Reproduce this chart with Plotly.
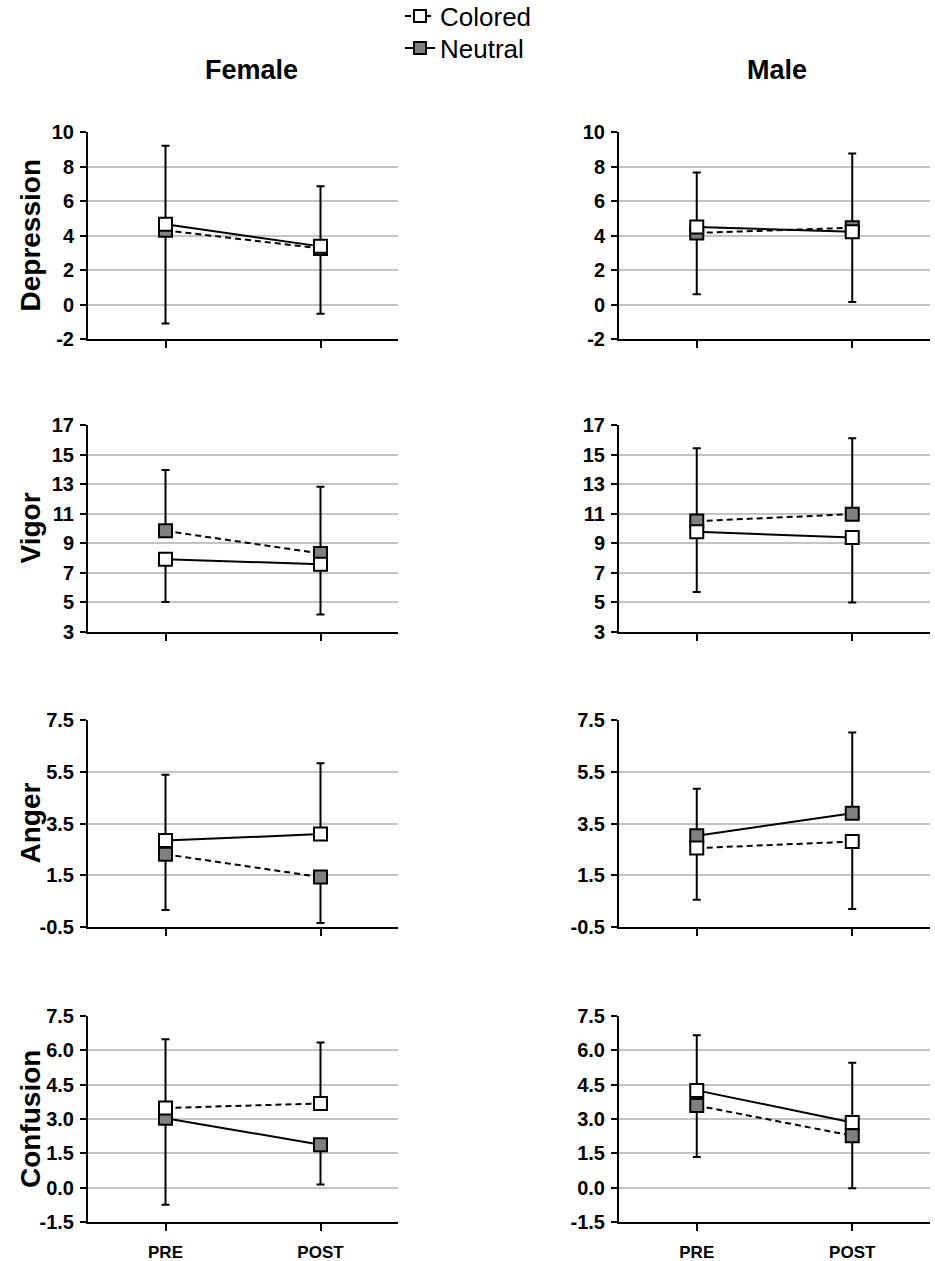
import plotly.graph_objects as go
from plotly.subplots import make_subplots

# ---------------- data ----------------
times = ["PRE", "POST"]
columns = ["Female", "Male"]
measures = ["Depression", "Vigor", "Anger", "Confusion"]

# means  (Colored = open square, Neutral = grey square)
female_colored = {"Depression": [4.65, 3.37], "Vigor": [7.92, 7.58], "Anger": [2.84, 3.09], "Confusion": [3.48, 3.68]}
female_neutral = {"Depression": [4.30, 3.25], "Vigor": [9.84, 8.31], "Anger": [2.31, 1.43], "Confusion": [3.03, 1.88]}
male_colored = {"Depression": [4.49, 4.22], "Vigor": [9.78, 9.39], "Anger": [2.55, 2.80], "Confusion": [4.25, 2.85]}
male_neutral = {"Depression": [4.15, 4.45], "Vigor": [10.50, 10.97], "Anger": [3.03, 3.90], "Confusion": [3.59, 2.27]}

# error bars (upper / lower length), 0 where not drawn
female_colored_up = {"Depression": [4.56, 3.48], "Vigor": [0, 0], "Anger": [2.54, 2.74], "Confusion": [3.00, 2.66]}
female_colored_dn = {"Depression": [0, 0], "Vigor": [2.89, 3.40], "Anger": [0, 0], "Confusion": [0, 0]}
female_neutral_up = {"Depression": [0, 0], "Vigor": [4.11, 4.51], "Anger": [0, 0], "Confusion": [0, 0]}
female_neutral_dn = {"Depression": [5.40, 3.78], "Vigor": [0, 0], "Anger": [2.15, 1.78], "Confusion": [3.78, 1.74]}
male_colored_up = {"Depression": [3.16, 0], "Vigor": [0, 0], "Anger": [0, 0], "Confusion": [2.41, 2.61]}
male_colored_dn = {"Depression": [0, 4.07], "Vigor": [4.07, 4.40], "Anger": [2.00, 2.60], "Confusion": [0, 0]}
male_neutral_up = {"Depression": [0, 4.30], "Vigor": [4.92, 5.13], "Anger": [1.81, 3.12], "Confusion": [0, 0]}
male_neutral_dn = {"Depression": [3.56, 0], "Vigor": [0, 0], "Anger": [0, 0], "Confusion": [2.25, 2.30]}

# y-axis tick values and labels
y_tickvals = {
    "Depression": [-2, 0, 2, 4, 6, 8, 10],
    "Vigor": [3, 5, 7, 9, 11, 13, 15, 17],
    "Anger": [-0.5, 1.5, 3.5, 5.5, 7.5],
    "Confusion": [-1.5, 0.0, 1.5, 3.0, 4.5, 6.0, 7.5],
}
y_ticktext = {
    "Depression": ["-2", "0", "2", "4", "6", "8", "10"],
    "Vigor": ["3", "5", "7", "9", "11", "13", "15", "17"],
    "Anger": ["-0.5", "1.5", "3.5", "5.5", "7.5"],
    "Confusion": ["-1.5", "0.0", "1.5", "3.0", "4.5", "6.0", "7.5"],
}

# ---------------- styles ----------------
# line dash of (Colored, Neutral) for each panel as drawn in the original
DASH = "6px,4px"
dash_style = {
    ("Female", "Depression"): ("solid", DASH),
    ("Male", "Depression"): ("solid", DASH),
    ("Female", "Vigor"): ("solid", DASH),
    ("Male", "Vigor"): ("solid", DASH),
    ("Female", "Anger"): ("solid", DASH),
    ("Male", "Anger"): (DASH, "solid"),
    ("Female", "Confusion"): (DASH, "solid"),
    ("Male", "Confusion"): ("solid", DASH),
}

W, H = 935, 1261
FONT = "Liberation Sans, Arial, sans-serif"
GREY = "#808080"

col_px = {"Female": (88, 398), "Male": (619, 930)}
row_px = {"Depression": (132, 339), "Vigor": (425, 632), "Anger": (720, 927), "Confusion": (1016, 1222)}

data = {
    "Female": (female_colored, female_neutral, female_colored_up, female_colored_dn, female_neutral_up, female_neutral_dn),
    "Male": (male_colored, male_neutral, male_colored_up, male_colored_dn, male_neutral_up, male_neutral_dn),
}

fig = make_subplots(rows=4, cols=2)

for r, m in enumerate(measures, start=1):
    for c, g in enumerate(columns, start=1):
        col_m, neu_m, cu, cd, nu, nd = data[g]
        dash_c, dash_n = dash_style[(g, m)]
        # Neutral (grey) first, Colored on top
        fig.add_trace(go.Scatter(
            x=times, y=neu_m[m], mode="lines+markers", showlegend=False,
            line=dict(color="black", width=2, dash=dash_n),
            marker=dict(symbol="square", size=13, color=GREY, line=dict(color="black", width=2)),
            error_y=dict(type="data", symmetric=False, array=nu[m], arrayminus=nd[m],
                         color="black", thickness=2, width=4),
        ), row=r, col=c)
        fig.add_trace(go.Scatter(
            x=times, y=col_m[m], mode="lines+markers", showlegend=False,
            line=dict(color="black", width=2, dash=dash_c),
            marker=dict(symbol="square", size=13, color="white", line=dict(color="black", width=2)),
            error_y=dict(type="data", symmetric=False, array=cu[m], arrayminus=cd[m],
                         color="black", thickness=2, width=4),
        ), row=r, col=c)

        x0, x1 = col_px[g]
        y0, y1 = row_px[m]
        fig.update_xaxes(
            domain=[x0 / W, x1 / W], type="category", range=[-0.5, 1.5],
            showline=True, linecolor="black", linewidth=2,
            ticks="outside", ticklen=7, tickwidth=2, tickcolor="black",
            showgrid=False, zeroline=False, automargin=False,
            showticklabels=(m == "Confusion"), ticklabelstandoff=7,
            tickfont=dict(family=FONT, size=17, color="black", weight="bold"),
            row=r, col=c,
        )
        tv = y_tickvals[m]
        fig.update_yaxes(
            domain=[1 - y1 / H, 1 - y0 / H], range=[tv[0], tv[-1]],
            tickmode="array", tickvals=tv, ticktext=y_ticktext[m],
            showline=True, linecolor="black", linewidth=2,
            ticks="outside", ticklen=6, tickwidth=2, tickcolor="black",
            showgrid=True, gridcolor="#c4c4c4", gridwidth=1.5, zeroline=False,
            automargin=False,
            tickfont=dict(family=FONT, size=20, color="black", weight="bold"),
            ticklabelstandoff=2,
            row=r, col=c,
        )

# legend entries (one legend box each, to place them like the original)
fig.add_trace(go.Scatter(
    x=[None], y=[None], mode="lines+markers", name="Colored", legend="legend",
    line=dict(color="black", width=2, dash=DASH),
    marker=dict(symbol="square", size=12, color="white", line=dict(color="black", width=2)),
), row=1, col=1)
fig.add_trace(go.Scatter(
    x=[None], y=[None], mode="lines+markers", name="Neutral", legend="legend2",
    line=dict(color="black", width=2),
    marker=dict(symbol="square", size=12, color=GREY, line=dict(color="black", width=2)),
), row=1, col=1)

annotations = []
# column titles
for g in columns:
    cx = {"Female": 251, "Male": 777}[g]
    annotations.append(dict(text=g, x=cx / W, y=1 - 70 / H, xref="paper", yref="paper",
                            xanchor="center", yanchor="middle", showarrow=False,
                            font=dict(family=FONT, size=27, color="black", weight="bold")))
# row titles
for m in measures:
    y0, y1 = row_px[m]
    annotations.append(dict(text=m, x=30 / W, y=1 - ((y0 + y1) / 2) / H, xref="paper", yref="paper",
                            xanchor="center", yanchor="middle", textangle=-90, showarrow=False,
                            font=dict(family=FONT, size=28, color="black", weight="bold")))

leg_common = dict(xanchor="left", yanchor="middle",
                  font=dict(family=FONT, size=26, color="black"),
                  bgcolor="rgba(0,0,0,0)", itemwidth=30)

fig.update_layout(
    width=W, height=H,
    margin=dict(l=0, r=0, t=0, b=0, autoexpand=False),
    paper_bgcolor="white", plot_bgcolor="white",
    showlegend=True,
    legend=dict(x=400 / W, y=1 - 16 / H, **leg_common),
    legend2=dict(x=400 / W, y=1 - 48 / H, **leg_common),
    annotations=annotations,
    font=dict(family=FONT, color="black"),
)

fig.write_html("out.html", config={"displayModeBar": False},
               post_script="document.body.style.margin='0px';")
